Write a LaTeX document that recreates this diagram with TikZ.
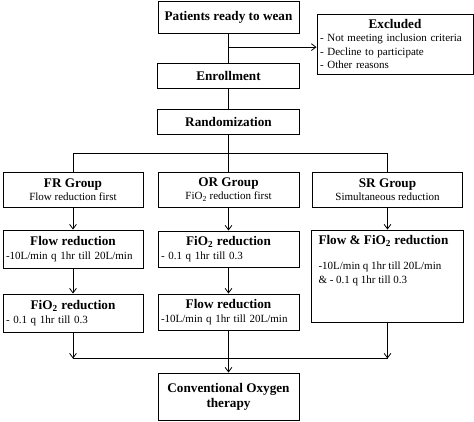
\documentclass[tikz,border=0pt]{standalone}
\usepackage{fontspec}
\setmainfont{Liberation Serif}
\usetikzlibrary{arrows.meta,positioning,calc}

\newcommand{\boxTitle}[1]{{\fontsize{13.2}{15}\selectfont\bfseries #1}}

\begin{document}
\begin{tikzpicture}[
  x=1pt,y=-1pt,
  >={Straight Barb[length=1.6mm,width=2.4mm]},
  flowbox/.style={draw,line width=0.9pt,align=center,inner sep=3pt,
               font=\fontsize{11}{13.5}\selectfont},
  detailbox/.style={flowbox,align=left},
  link/.style={line width=0.8pt},
]
\useasboundingbox (0,0) rectangle (474,421);

% main column
\node[flowbox,minimum width=141pt,minimum height=32pt] (start) at (228.5,17)
   {\boxTitle{Patients ready to wean}};
\node[detailbox,text width=150pt,minimum height=60pt] (excl) at (395,44)
   {\makebox[\linewidth]{\boxTitle{Excluded}}\\- Not meeting inclusion criteria\\
    - Decline to participate\\- Other reasons};
\node[flowbox,minimum width=142pt,minimum height=25pt] (enrol) at (228.5,75.5)
   {\boxTitle{Enrollment}};
\node[flowbox,minimum width=142pt,minimum height=25pt] (rand) at (228.5,121.5)
   {\boxTitle{Randomization}};

% groups
\node[flowbox,minimum width=140pt,minimum height=35pt] (fr) at (73,189.5)
   {\boxTitle{FR Group}\\Flow reduction first};
\node[flowbox,minimum width=141pt,minimum height=35pt] (or) at (228.5,189.5)
   {\boxTitle{OR Group}\\FiO\textsubscript{2} reduction first};
\node[flowbox,minimum width=150pt,minimum height=35pt] (sr) at (387.5,189.5)
   {\boxTitle{SR Group}\\Simultaneous reduction};

% first step
\node[detailbox,text width=134pt,minimum height=38pt] (frFlow) at (73,249)
   {\makebox[\linewidth]{\boxTitle{Flow reduction}}\\-10L/min q 1hr till 20L/min};
\node[detailbox,text width=135pt,minimum height=36pt] (orFio) at (228.5,249)
   {\makebox[\linewidth]{\boxTitle{FiO\textsubscript{2} reduction}}\\- 0.1 q 1hr till 0.3};
\node[flowbox,minimum width=152pt,minimum height=92pt] (srBoth) at (387.5,276) {};
\node[detailbox,draw=none,anchor=north west] (srBothTxt)
   at ([shift={(4,2)}]srBoth.north west)
   {\boxTitle{Flow \& FiO\textsubscript{2} reduction}\\[12pt]
    -10L/min q 1hr till 20L/min\\\& - 0.1 q 1hr till 0.3};

% second step
\node[detailbox,text width=134pt,minimum height=38pt] (frFio) at (73,313)
   {\makebox[\linewidth]{\boxTitle{FiO\textsubscript{2} reduction}}\\- 0.1 q 1hr till 0.3};
\node[detailbox,text width=135pt,minimum height=36pt] (orFlow) at (228.5,312)
   {\makebox[\linewidth]{\boxTitle{Flow reduction}}\\-10L/min q 1hr till 20L/min};

\node[flowbox,minimum width=141pt,minimum height=47pt,
      font=\fontsize{13.2}{15}\selectfont\bfseries] (end) at (228.5,396.5)
   {Conventional Oxygen\\therapy};

% connectors
\coordinate (exclSplit) at ($(start.south)!0.47!(enrol.north)$);
\coordinate (grpBar) at ($(rand.south)+(0,19)$);
\coordinate (endBar) at ($(end.north)+(0,-14)$);
\draw[link] (start) -- (enrol);
\draw[link,->] (exclSplit) -- (exclSplit -| excl.west);
\draw[link] (enrol) -- (rand);
\draw[link] (rand.south) -- (grpBar);
\draw[link] (fr.north) |- (grpBar) -| (sr.north);
\draw[link] (grpBar) -- (or.north);
\draw[link,->] (fr) -- (frFlow);
\draw[link,->] (or) -- (orFio);
\draw[link,->] (sr) -- (srBoth);
\draw[link,->] (frFlow) -- (frFio);
\draw[link,->] (orFio) -- (orFlow);
\draw[link,->] (frFio.south) -- (frFio.south |- endBar);
\draw[link,->] (srBoth.south) -- (srBoth.south |- endBar);
\draw[link] (frFio.south |- endBar) -- (srBoth.south |- endBar);
\draw[link,->] (orFlow) -- (end);
\end{tikzpicture}
\end{document}
